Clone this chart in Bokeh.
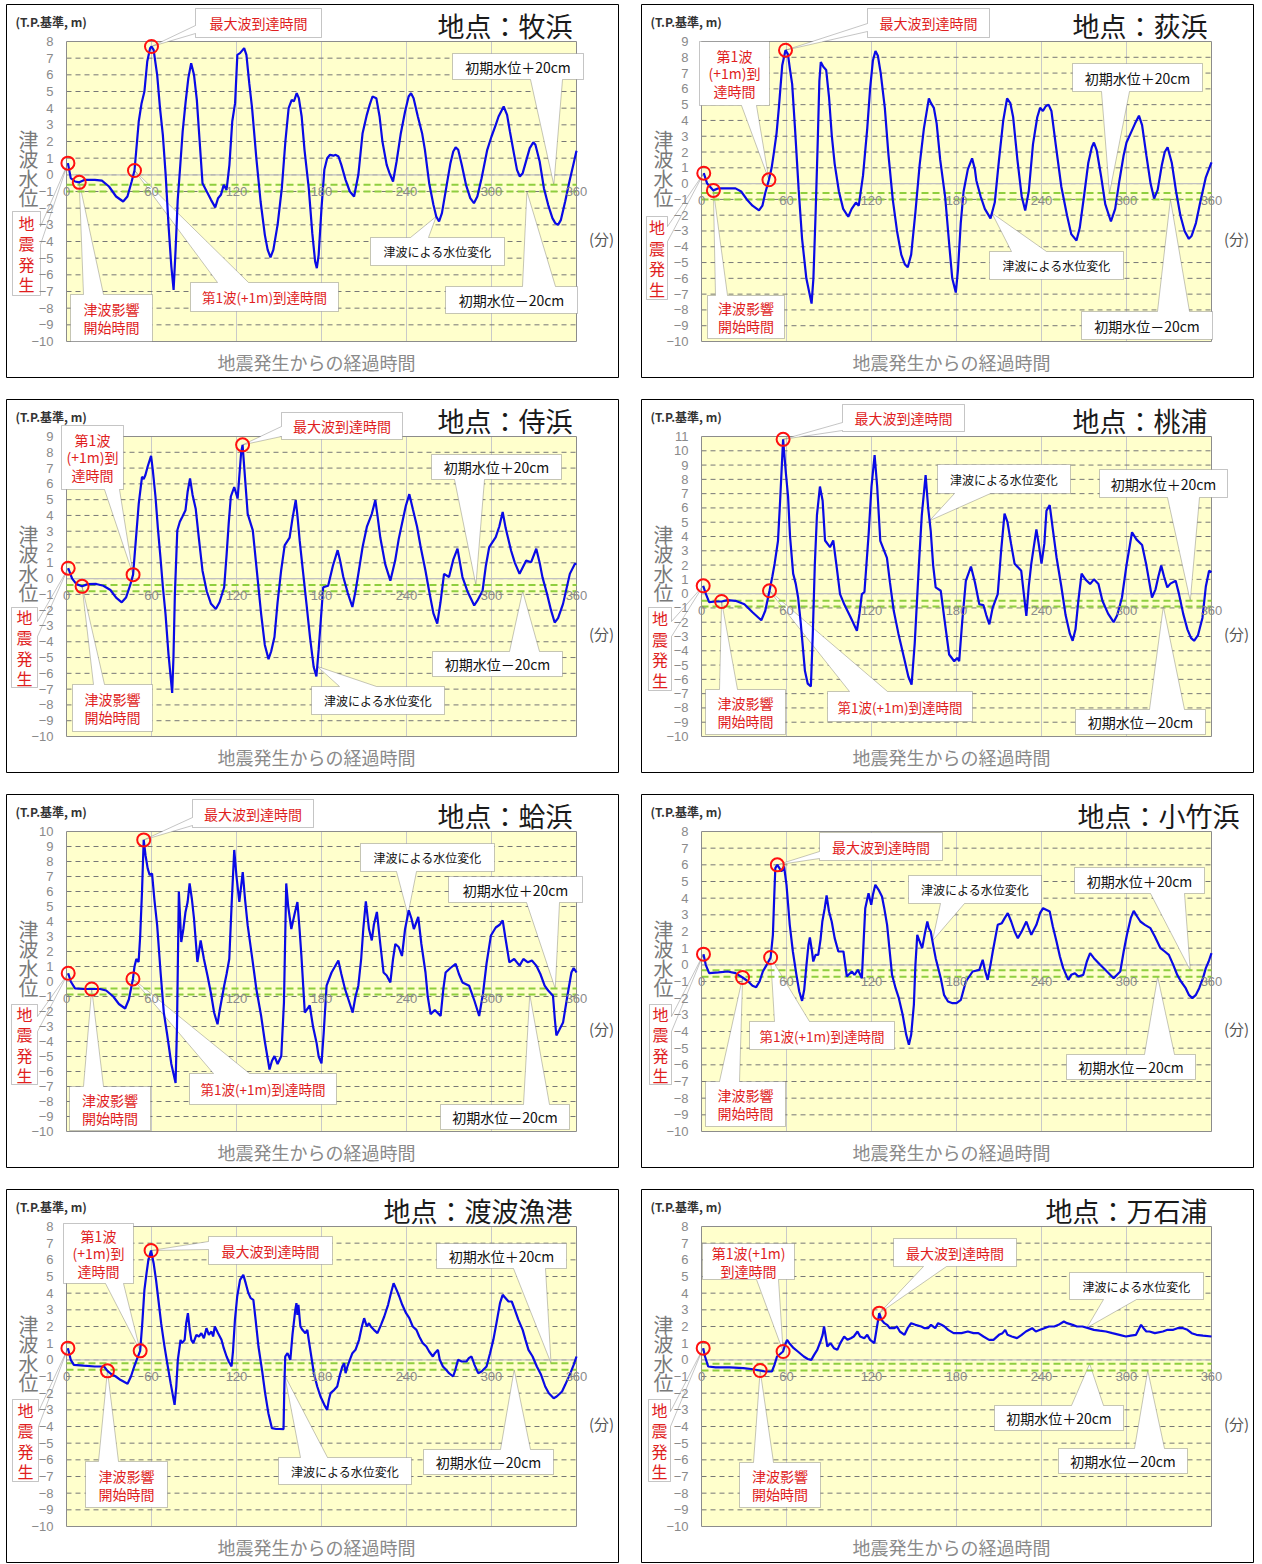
import numpy as np
from bokeh.plotting import figure
from bokeh.models import Range1d, FixedTicker, Label, PolyAnnotation
from bokeh.layouts import column, row
from bokeh.embed import file_html
from bokeh.resources import INLINE

# ---------------- data ----------------
stations = ["牧浜", "荻浜", "侍浜", "桃浦", "蛤浜", "小竹浜", "渡波漁港", "万石浦"]
y_max = [8, 9, 9, 11, 10, 8, 8, 8]
initial_level = [-0.8, -0.8, -0.6, -0.7, -0.67, -0.52, -0.4, -0.44]
x_ticks = [0, 60, 120, 180, 240, 300, 360]

# (minutes after the earthquake, water level m T.P.)
makihama = [(1,0.7),(3,-0.2),(6,-0.4),(9,-0.45),(13,-0.3),(20,-0.3),(25,-0.35),(30,-0.7),(35,-1.3),(40,-1.6),
 (43,-1.3),(46,-0.4),(48,0.26),(51,3.2),(53,4.3),(55,5.0),(57,6.8),(59,7.6),(60,7.7),(61.5,7.5),(64,6.0),(66,4.0),
 (68,2.4),(70,0.0),(72,-3.0),(74,-5.5),(75.6,-6.9),(77,-4.5),(78.5,-1.5),(80,0.2),(82,2.6),(84,4.3),(86,5.8),
 (88,6.7),(90,6.0),(92,4.5),(94,2.0),(96,-0.5),(99,-1.0),(102,-1.5),(105,-1.95),(107,-1.4),(109,-1.2),(111,-0.6),
 (113,-0.9),(115,0.6),(117,3.2),(119,4.3),(120.6,7.2),(122.5,7.3),(125.4,7.6),(127,7.2),(129,5.5),(131,4.0),
 (134,1.0),(137,-1.6),(140,-3.6),(142,-4.5),(144,-4.95),(146,-4.5),(149,-3.0),(152,-0.8),(154.5,2.0),(156.8,4.0),
 (159,4.5),(160.5,4.4),(162.5,4.9),(164,4.6),(166,3.5),(168,1.5),(171,-0.8),(173.5,-3.5),(175.5,-5.2),(176.7,-5.6),
 (178,-4.8),(180,-2.0),(182,0.3),(184,1.0),(186,1.2),(188.4,1.15),(190,1.2),(192,1.1),(194,0.6),(197,-0.3),
 (200,-1.0),(203,-1.3),(206,0.0),(209,2.5),(212,3.6),(214,4.2),(216,4.7),(218.7,4.6),(221,3.5),(223,2.0),(226,0.6),
 (228,0.1),(230.5,-0.4),(233,0.8),(236,2.5),(239,3.8),(241.5,4.7),(243.2,4.9),(245,4.6),(248,3.5),(251,2.5),
 (253,1.5),(256,-0.5),(259,-1.8),(261,-2.5),(263,-2.8),(265,-2.3),(268,-0.8),(271,0.7),(273,1.4),(274.7,1.65),
 (276.5,1.5),(279,0.6),(282,-0.6),(285,-1.4),(287.6,-1.7),(290,-1.3),(293,-0.2),(297,1.5),(300,2.3),(303,3.0),
 (305,3.5),(308.6,4.1),(311,3.6),(313,2.6),(316,1.2),(318,0.3),(320,-0.1),(322,0.1),(325,1.0),(327,1.6),
 (329.5,1.95),(331,1.8),(334,0.8),(337,-0.8),(340,-1.8),(343,-2.6),(345,-2.9),(347,-3.0),(349,-2.7),(352,-1.6),
 (355,-0.4),(358,0.7),(360,1.45)]

oginohama = [(1.6,0.66),(4,0.0),(8.4,-0.43),(12,-0.3),(16,-0.3),(24,-0.3),(28,-0.5),(32,-1.0),(36,-1.4),(40.6,-1.7),
 (43,-1.4),(45,-0.6),(47.6,0.24),(49.5,1.0),(51,1.9),(53,3.2),(54.6,4.8),(57,7.5),(59.3,8.45),(61,8.2),(62.5,7.2),
 (64,6.3),(66,3.5),(68.6,-0.4),(71,-3.5),(74,-6.0),(77.7,-7.6),(79,-6.0),(80.5,-2.0),(82,2.5),(83.2,6.5),(84.2,7.7),
 (86,7.4),(88,7.2),(90,5.5),(92,3.0),(94,1.25),(97,-0.5),(100,-1.6),(103.6,-2.1),(106,-1.6),(109,-1.2),(111,-1.4),
 (114,0.5),(117,3.5),(119,6.0),(121,7.8),(122.8,8.4),(124.5,8.1),(126.5,7.0),(129.4,4.8),(132,1.8),(135,-1.0),
 (138,-3.0),(141,-4.5),(143.5,-5.1),(145.6,-5.3),(148,-4.5),(151,-1.8),(154,1.2),(157,3.5),(160.5,5.4),(162,5.1),
 (164,4.8),(166,3.8),(168.5,1.5),(172,-0.85),(175,-4.0),(177,-6.0),(179.5,-6.9),(181,-5.5),(183,-2.5),(185,-0.5),
 (188,0.9),(191,1.6),(193,0.9),(194,0.2),(197,-0.8),(200,-1.6),(204,-2.2),(207,-1.2),(210,1.5),(213,4.0),
 (215.7,5.4),(218,5.1),(220,4.2),(223,1.5),(226,-0.8),(228.5,-1.7),(231,-0.5),(234,2.5),(237,4.2),(239,4.8),
 (241,4.6),(243,4.9),(245,5.0),(247,4.6),(250,2.5),(254,-0.2),(258,-2.0),(261,-3.2),(264.7,-3.6),(267,-2.8),
 (270,-0.8),(273,1.3),(275.5,2.3),(277,2.6),(279,2.1),(282,0.5),(285,-1.3),(289,-2.4),(292,-1.6),(295,0.2),
 (298,1.8),(300,2.6),(303,3.2),(306,3.8),(308.8,4.3),(311,3.7),(314,1.8),(317,0.0),(319.5,-0.95),(322,-0.4),
 (325,1.2),(327,2.0),(329,2.3),(332,1.3),(335,-0.5),(338,-2.0),(341,-3.0),(344,-3.5),(346,-3.3),(349,-2.5),
 (352,-1.2),(356,0.4),(360,1.35)]

samuraihama = [(1.2,0.66),(4,0.0),(7,-0.35),(11,-0.49),(15,-0.35),(21,-0.34),(26,-0.45),(31,-0.72),(35,-1.2),
 (39,-1.5),(42,-1.2),(45,-0.4),(47,0.25),(49,2.5),(51,4.75),(53.3,6.45),(54.5,6.3),(55.7,6.56),(57.3,7.1),
 (59.7,7.77),(61,6.8),(62.8,5.2),(64.5,3.2),(66.3,1.36),(68,-0.5),(69.9,-2.25),(72,-4.8),(74.6,-7.24),(75.5,-5.0),
 (76.5,-1.0),(78.2,3.05),(80,3.6),(81.7,3.9),(84,4.33),(85.5,5.5),(87.2,6.35),(89,5.3),(91.2,4.43),(93.5,2.5),
 (96,0.5),(99,-0.8),(102,-1.6),(105.4,-1.93),(108,-1.5),(111.3,-0.55),(113,1.5),(114.5,3.5),(116,5.2),(118.4,5.8),
 (120.8,5.07),(122,6.5),(123.3,8.0),(124.3,8.47),(125.5,7.0),(127.9,4.1),(131.5,3.05),(134,0.8),(137.4,-2.25),
 (140,-4.2),(142.6,-5.1),(144.5,-4.6),(146.8,-3.7),(149,-1.5),(151.5,0.5),(154,2.1),(157.5,2.6),(159.5,3.8),
 (161.8,4.97),(163,4.0),(164.6,2.4),(167,0.4),(169.4,-1.6),(172,-3.8),(174.5,-5.6),(176.4,-6.2),(178,-4.5),
 (181.2,-0.55),(184.7,-0.45),(188,0.8),(191.4,1.8),(193,1.2),(195.4,0.1),(198.5,-0.9),(201.8,-1.8),(204,-0.8),
 (206,0.3),(209,2.0),(212,3.27),(215.5,4.1),(218,4.97),(219.5,4.0),(221.5,2.6),(225,0.9),(228.6,-0.13),(232,1.14),
 (234.5,2.5),(236.8,3.48),(239.5,4.6),(242,5.35),(244.5,4.4),(247.5,3.27),(250,2.0),(253.4,0.5),(256,-0.8),
 (259,-2.2),(261.7,-2.85),(264,-1.5),(266.5,0.3),(270,0.1),(273,1.2),(276,1.9),(279.5,0.1),(283,-0.8),(287.8,-1.7),
 (290,-1.4),(293.7,-0.77),(296,0.8),(298.4,2.0),(303,2.63),(305.5,3.3),(307.9,4.22),(310,3.2),(313.8,1.78),
 (316.5,1.0),(319.8,0.3),(324.5,1.14),(328,1.04),(331.6,1.89),(334,1.0),(336,0.08),(339,-0.9),(342,-2.0),
 (344.6,-2.78),(347,-2.5),(350.5,-1.6),(355.3,0.3),(358.8,0.93),(360,0.93)]

momonoura = [(1.2,0.55),(3,0.0),(5.4,-0.6),(10,-0.55),(14.2,-0.55),(18.5,-0.45),(24,-0.5),(30.3,-0.74),(36,-1.3),
 (42.2,-1.86),(45,-1.2),(48,0.2),(50,1.2),(51.6,2.08),(54,3.7),(55.5,6.5),(57.6,10.8),(59.5,8.5),(61.1,6.8),
 (62.5,4.0),(64.7,1.4),(66.5,0.7),(68.2,-0.27),(70,-2.0),(73,-5.4),(75,-6.3),(77.2,-6.5),(78.5,-3.0),(80,2.08),
 (81.5,5.5),(83.6,7.5),(85.5,6.5),(87.2,3.72),(90.7,3.25),(93,3.72),(95.5,1.8),(97.8,-0.03),(101,-0.8),(105,-1.6),
 (109.7,-2.6),(111.5,-1.4),(113.2,-0.03),(115,0.1),(118,4.2),(120,7.5),(122.2,9.7),(124,7.5),(126.2,3.7),
 (130.9,2.5),(133,0.8),(135.7,-1.2),(139,-2.8),(143,-4.5),(146,-5.8),(148.3,-6.37),(150.5,-3.5),(153.5,2.08),
 (155.5,5.5),(158.2,8.3),(160,6.0),(161.8,4.4),(163.5,2.0),(165.3,0.44),(168.9,0.2),(171.5,-1.8),(174.8,-4.26),
 (178.4,-4.73),(180.5,-4.5),(181.9,-4.73),(184,-2.0),(186.6,0.9),(190.2,1.9),(193,0.8),(196.1,-0.74),(199,-0.8),
 (201,-1.5),(203.2,-2.15),(205.5,-1.0),(209.1,-0.03),(211.5,3.0),(213.9,5.6),(216,5.0),(218.5,3.5),(221,2.1),
 (225.7,1.6),(227.5,0.0),(229.3,-1.56),(231,0.5),(232.8,2.1),(236.4,4.5),(238,3.5),(240,2.1),(242,3.5),(243.5,5.8),
 (245.8,6.2),(248,4.5),(250.6,2.55),(254,0.5),(257,-1.5),(260,-2.8),(262,-3.3),(264,-2.5),(266,-0.5),(268.3,1.4),
 (271,1.0),(274.3,0.67),(277,1.0),(280.2,0.67),(283,-0.5),(287,-1.4),(290.9,-2.0),(293.5,-1.5),(296.8,-0.27),
 (300,2.0),(303.9,4.3),(307,3.8),(311,3.4),(314,2.0),(318,-0.27),(320.5,0.3),(322.5,1.2),(324.5,1.96),(326.5,1.2),
 (328.8,0.44),(331,0.7),(334.7,0.9),(337,0.0),(340,-1.4),(343,-2.5),(345.5,-3.1),(347.7,-3.3),(350.5,-2.9),
 (353.6,-1.7),(356,0.5),(358.3,1.6),(360,1.5)]

hamagurihama = [(1.2,0.55),(3,0.0),(6,-0.46),(12,-0.5),(17.8,-0.5),(23.7,-0.5),(28,-0.6),(33,-1.0),(37,-1.5),
 (41.4,-1.8),(44,-1.2),(46.9,0.17),(48,1.0),(49.3,1.5),(50.9,1.3),(52,3.0),(53.3,6.0),(54.5,9.44),(55.8,8.4),
 (57.3,7.54),(58.7,7.1),(60.4,7.2),(62,5.5),(64,3.74),(66.5,0.5),(68.7,-2.07),(71,-3.5),(74,-5.5),(77,-6.76),
 (78,-3.0),(79.3,6.0),(81,2.63),(82.5,3.5),(84,4.64),(85.5,5.3),(86.9,6.54),(88.5,5.5),(90,4.2),(92.4,1.3),
 (94.7,2.74),(97,1.5),(99.5,0.4),(102,-0.8),(104.2,-2.07),(106.6,-2.85),(108,-2.0),(111.3,-0.28),(113,0.5),
 (114.9,1.5),(116.5,5.0),(118.4,8.77),(120,7.0),(122,5.3),(124.4,7.3),(126,5.5),(127.9,3.74),(131.5,1.28),
 (134,-0.5),(137.4,-2.3),(140,-4.0),(143.3,-5.87),(145,-5.3),(146.8,-4.97),(149,-5.5),(151.6,-4.97),(153.5,-1.4),
 (155.1,6.54),(156.5,5.0),(158.7,3.5),(161,4.5),(163,5.3),(164.5,3.5),(165.8,1.73),(168.2,-2.07),(171.7,-1.6),
 (174,-3.0),(176.5,-4.08),(178,-5.0),(180,-5.46),(181.5,-3.5),(183.6,-0.28),(187.1,0.6),(189.5,1.0),(191.9,1.4),
 (194,0.5),(196.6,-0.5),(199,-1.2),(202,-2.07),(204,-1.0),(206,-0.28),(208,1.5),(209.5,3.5),(211.3,5.35),
 (213.5,3.5),(215.5,2.74),(217,3.8),(219.1,4.64),(221.5,2.5),(223.8,0.6),(226,0.4),(228.6,-0.06),(230.5,1.5),
 (232.1,2.5),(234.5,2.3),(236.8,1.7),(239,3.5),(241.6,4.75),(243.5,4.2),(245.2,3.5),(248.3,4.3),(250.5,2.5),
 (253.4,0.6),(255,-1.0),(257,-2.18),(260,-1.9),(264.1,-2.3),(266,-0.5),(267.6,0.6),(271,0.9),(274.7,1.17),
 (277,0.5),(279.5,-0.06),(284.2,-0.28),(288,-1.3),(291.3,-2.3),(294,-0.8),(296.5,1.2),(299.6,3.07),(303,3.6),
 (306,3.8),(307.9,4.08),(310,2.8),(312.6,1.28),(316,1.5),(319.8,1.06),(322.5,1.5),(325.7,1.28),(328.5,1.4),
 (331.6,1.06),(334.5,0.5),(337.5,-0.28),(340,-0.6),(343.4,-0.95),(344.7,-2.5),(345.8,-3.6),(348,-3.2),
 (350.5,-2.74),(353.5,-1.0),(356.4,0.6),(358,0.9),(360,0.6)]

kotakehama = [(1.4,0.64),(3,0.0),(5.4,-0.5),(12,-0.45),(18.5,-0.4),(24,-0.5),(29,-0.76),(33,-1.0),(36,-1.25),
 (38.6,-1.34),(41,-1.0),(43.3,-0.4),(46,0.0),(48.8,0.44),(50.4,1.8),(51.3,4.0),(52.1,5.8),(53.5,6.0),(55,5.8),
 (56.4,5.6),(58.3,5.9),(60,4.8),(62.3,2.4),(64.5,0.8),(67,-0.6),(69,-1.6),(71,-2.16),(72.5,-1.5),(74.1,0.0),
 (75.5,1.2),(76.5,1.64),(78,0.8),(78.9,0.2),(80.5,0.6),(82.4,0.6),(84,1.5),(85.3,2.6),(87,3.4),(88.3,4.16),
 (90,3.2),(91.9,2.6),(94,1.6),(96.6,0.8),(100.2,0.8),(101.5,0.0),(102.6,-0.7),(106.1,-0.4),(108,-0.6),(110.4,-0.3),
 (113.2,-0.8),(114.5,1.5),(115.6,3.4),(117.9,4.3),(119.8,3.6),(121,4.2),(122.7,4.8),(125,4.5),(127.4,4.1),
 (129,3.4),(131,2.4),(134.5,-0.6),(137,-1.4),(139.3,-2.0),(142,-3.0),(144.5,-4.2),(146.4,-4.8),(148,-4.2),
 (149.9,-2.4),(151,0.0),(152.3,1.8),(154,1.4),(155.8,1.0),(157.5,1.8),(159.4,2.6),(160.5,2.2),(161.8,2.0),
 (163.5,1.2),(165.3,0.4),(168.9,-0.8),(171.2,-1.8),(174,-2.2),(177.2,-2.3),(180,-2.3),(183.1,-2.1),(186.6,-1.0),
 (191.4,-0.4),(196.1,-0.3),(198.5,0.3),(200,-0.3),(202,-0.9),(204,0.0),(205.6,0.8),(209.1,2.4),(212,2.5),
 (214,2.8),(216.2,3.1),(218.6,2.6),(221,2.0),(223.3,1.6),(226,2.0),(229.3,2.6),(231,2.2),(232.8,1.8),(236.4,2.4),
 (239,3.1),(241.1,3.4),(245.8,3.2),(248,2.3),(250.6,1.4),(253,0.5),(255.3,-0.2),(258.9,-0.9),(261,-0.6),
 (263.6,-0.5),(266,-0.7),(269.5,-0.6),(272,0.2),(274.3,0.7),(277,0.4),(281.4,0.0),(285,-0.3),(290.9,-0.8),
 (295.6,-0.4),(298,0.8),(300.3,1.8),(303,2.8),(305.1,3.24),(307.5,2.9),(309.8,2.6),(313,2.4),(316.9,2.2),
 (320,1.7),(324,1.0),(327,0.8),(329.9,0.6),(333,0.0),(335.8,-0.6),(338.5,-1.0),(341.8,-1.4),(344,-1.8),
 (346.5,-2.0),(349,-1.8),(351.3,-1.4),(354,-0.8),(356,-0.2),(358,0.2),(360,0.7)]

watanoha = [(1,0.7),(3,0.0),(5.2,-0.3),(12,-0.35),(20,-0.4),(26.5,-0.4),(28.9,-0.66),(31.5,-0.85),(34.8,-1.0),
 (38,-1.2),(43.1,-1.44),(45.5,-1.0),(47.8,-0.4),(50,0.1),(52,0.54),(53.5,2.2),(55,4.2),(56.5,5.2),(57.8,6.0),
 (59.7,6.56),(61.5,5.8),(63.2,4.8),(65,3.5),(66.8,2.2),(69,0.9),(71.5,-0.4),(73.5,-1.4),(76.3,-2.7),(77.5,-1.6),
 (78.6,0.0),(80.5,1.2),(81.5,1.0),(83.4,1.2),(84.5,2.2),(85.7,2.8),(87,1.8),(88.1,1.2),(89.5,1.0),(91.7,1.5),
 (93.5,1.4),(95.2,1.6),(97,1.3),(98.8,1.9),(100.5,1.5),(102.3,1.7),(103.5,1.4),(104.7,2.0),(107,1.6),(109.4,1.2),
 (111,0.7),(113,0.2),(114.5,-0.1),(116.5,-0.4),(117.5,0.5),(118.9,2.4),(120.5,3.8),(122.5,4.8),(124.8,5.1),
 (126.5,4.6),(128.4,4.0),(130,3.7),(131.9,3.6),(133.5,2.4),(135.5,0.8),(138,-0.6),(140.2,-2.0),(142.5,-3.2),
 (145,-4.1),(148,-4.15),(150.5,-4.15),(153.2,-4.16),(153.8,-1.5),(154.4,0.2),(156,0.4),(158,0.0),(159.5,1.5),
 (161.5,3.0),(162.3,3.4),(163,2.7),(163.7,3.3),(165.1,2.0),(166.5,1.8),(168.6,1.6),(170,1.8),(171,1.2),
 (172.8,0.2),(174.6,-0.8),(177,-1.6),(179.3,-2.2),(182,-2.7),(184,-3.0),(185.2,-2.4),(186.4,-2.0),(189,-1.8),
 (191.1,-1.6),(193,-0.9),(194.7,-0.4),(196,-0.2),(197,-0.8),(198.3,-0.4),(200,0.0),(201.8,0.4),(204,0.6),
 (206.5,1.2),(208.5,2.0),(210.1,2.5),(212,2.0),(213.5,2.2),(214.8,2.0),(217,1.8),(219.5,1.6),(222,2.1),
 (224.3,2.6),(227,3.3),(229,4.0),(230.9,4.6),(233,4.2),(234.9,3.8),(237,3.3),(239.7,2.8),(242,2.5),(244.4,2.0),
 (247,1.8),(249,1.4),(251.5,1.0),(254,0.8),(256,0.5),(258.6,0.2),(260,0.4),(262.2,0.6),(263.5,0.0),(265.7,-0.4),
 (268,-0.6),(270,-0.8),(272.9,-1.0),(274.5,-0.6),(276.4,0.0),(279,-0.1),(282.3,-0.1),(284,0.1),(285.9,0.2),
 (288,-0.3),(290.6,-0.8),(293,-0.7),(296.5,-0.4),(299,0.4),(301.3,1.2),(303.5,2.2),(306,3.4),(307.9,3.9),
 (310,3.7),(312,3.5),(314.3,3.5),(316.5,3.0),(319,2.4),(322,1.8),(324,1.2),(326.1,0.6),(329,0.2),(332,-0.4),
 (335,-0.9),(337.9,-1.6),(340.5,-2.0),(343.9,-2.3),(346,-2.2),(349.8,-1.9),(352,-1.5),(355.7,-0.8),(358,-0.3),
 (360,0.2)]

mangokuura = [(1.2,0.7),(2.5,0.2),(4.7,-0.4),(10,-0.45),(20,-0.45),(29.6,-0.5),(35,-0.55),(41.4,-0.64),(45,-0.7),
 (49.7,-0.7),(51.5,-0.3),(53.3,0.2),(55.5,0.35),(57.6,0.5),(59,0.9),(60.4,1.2),(62,1.0),(65.1,0.7),(68,0.5),
 (72.2,0.2),(75,0.05),(77.5,0.0),(79.5,0.3),(81.7,0.6),(84,1.1),(85.5,1.5),(86.5,2.0),(87.5,1.5),(88.8,0.8),
 (91,1.0),(93.5,0.7),(95.9,0.6),(98,1.0),(100.7,1.4),(103,1.2),(105.4,1.3),(107.5,1.4),(110.1,1.7),(112,1.4),
 (114.9,1.3),(117,1.5),(119,1.2),(122,1.0),(123.9,2.0),(125.5,2.8),(127,2.4),(129.1,2.2),(131,2.1),(133,1.9),
 (136.2,1.9),(138,2.0),(140,1.7),(143.3,1.5),(145.5,1.9),(148,2.2),(151,2.1),(155.1,2.0),(157.5,1.9),(159.9,1.9),
 (162,2.1),(165,1.9),(167,2.2),(169.4,2.1),(171.5,2.0),(174.1,1.8),(178,1.6),(183.6,1.6),(188,1.7),(192,1.6),
 (195.4,1.6),(199,1.4),(203,1.2),(206.1,1.2),(210,1.5),(212.5,1.6),(214.4,1.8),(216,1.5),(219,1.4),(222.7,1.3),
 (226,1.5),(229,1.7),(233.4,1.9),(236,1.7),(239,1.8),(242,1.9),(245.2,2.0),(249,2.0),(252,2.1),(255.8,2.3),
 (258,2.2),(262,2.1),(265,2.0),(268.9,2.0),(273,1.9),(277,1.8),(281,1.75),(285.5,1.7),(290,1.6),(295,1.5),
 (299.6,1.4),(303,1.45),(306.7,1.5),(308.5,1.8),(310.3,2.1),(312,1.9),(314,1.7),(316.2,1.7),(320,1.6),
 (325.7,1.7),(329,1.8),(333,1.8),(336,1.9),(340,1.9),(343,1.8),(346,1.6),(349.4,1.5),(354,1.45),(360,1.4)]

series_all = [makihama, oginohama, samuraihama, momonoura, hamagurihama, kotakehama, watanoha, mangokuura]

# marked times: earthquake, tsunami influence start, 1st wave (+1 m), maximum wave
marks_makihama = [(1, 0.7), (9, -0.45), (48, 0.26), (60, 7.7)]
marks_oginohama = [(1.6, 0.66), (8.4, -0.43), (47.6, 0.24), (59.3, 8.45)]
marks_samuraihama = [(1.2, 0.66), (11, -0.49), (47, 0.25), (124.3, 8.47)]
marks_momonoura = [(1.2, 0.55), (14.2, -0.55), (48, 0.2), (57.6, 10.8)]
marks_hamagurihama = [(1.2, 0.55), (17.8, -0.5), (46.9, 0.17), (54.5, 9.44)]
marks_kotakehama = [(1.4, 0.64), (29, -0.76), (48.8, 0.44), (53.5, 6.0)]
marks_watanoha = [(1, 0.7), (28.9, -0.66), (52, 0.54), (59.7, 6.56)]
marks_mangokuura = [(1.2, 0.7), (41.4, -0.64), (57.6, 0.5), (125.5, 2.8)]
marks_all = [marks_makihama, marks_oginohama, marks_samuraihama, marks_momonoura,
             marks_hamagurihama, marks_kotakehama, marks_watanoha, marks_mangokuura]

# ---------------- layout / style ----------------
FONT = "Noto Sans CJK JP"
RED = "#E01E1E"
FW, FH = 510, 300
ML, MR, MT, MB = 60, 43, 37, 37
W, H = ML + FW + MR, MT + FH + MB

TEXTS = {
    "quake": ("地\n震\n発\n生", RED, 16, 0.86),
    "start": ("津波影響\n開始時間", RED, 14, 0.9),
    "first1": ("第1波(+1m)到達時間", RED, 13.5, 1.0),
    "first2": ("第1波(+1m)\n到達時間", RED, 14, 0.9),
    "first3": ("第1波\n(+1m)到\n達時間", RED, 14, 0.88),
    "max": ("最大波到達時間", RED, 14, 1.0),
    "change": ("津波による水位変化", "#111111", 12, 1.0),
    "up": ("初期水位＋20cm", "#111111", 14, 1.0),
    "lo": ("初期水位－20cm", "#111111", 14, 1.0),
}

# callouts: kind, box (x0,y0,x1,y1 px from plot-area corner), edge, base points, tip
CALLOUTS = [
    [("quake", (-54,170,-26,254), "right", (185,203), ("m",0)),
     ("start", (4,253,86,300), "top", (17,37), ("m",1)),
     ("first1", (124,241,272,270), "top", (151,182), ("m",2)),
     ("max", (129,-33,255,-4), "left", (-16,-8), ("m",3)),
     ("change", (304,196,438,224), "top", (344,362), ("c",261)),
     ("up", (386,12,517,38), "bottom", (464,496), ("up",344)),
     ("lo", (379,245,511,272), "top", (456,489), ("lo",325))],
    [("quake", (-55,175,-34,258), "right", (185,200), ("m",0)),
     ("start", (6,254,83,297), "top", (14,26), ("m",1)),
     ("first3", (-2,0,68,64), "bottom", (40,55), ("m",2)),
     ("max", (166,-33,288,-4), "left", (-18,-10), ("m",3)),
     ("change", (288,210,422,238), "top", (310,345), ("c",205)),
     ("up", (371,22,501,50), "bottom", (400,428), ("up",288)),
     ("lo", (380,270,511,298), "top", (456,488), ("lo",331))],
    [("quake", (-55,171,-29,251), "right", (185,200), ("m",0)),
     ("start", (6,248,86,295), "top", (27,38), ("m",1)),
     ("first3", (-5,-11,57,53), "bottom", (38,53), ("m",2)),
     ("max", (215,-24,336,3), "left", (-10,0), ("m",3)),
     ("change", (245,250,378,278), "top", (273,310), ("c",177)),
     ("up", (365,18,495,43), "bottom", (388,418), ("up",289)),
     ("lo", (366,215,496,240), "top", (443,473), ("lo",322))],
    [("quake", (-53,171,-30,254), "right", (185,200), ("m",0)),
     ("start", (4,253,84,298), "top", (18,36), ("m",1)),
     ("first1", (126,255,271,285), "top", (148,186), ("m",2)),
     ("max", (141,-32,263,-5), "left", (-14,-6), ("m",3)),
     ("change", (236,28,369,57), "bottom", (253,289), ("c",161)),
     ("up", (398,33,526,61), "bottom", (466,498), ("up",345)),
     ("lo", (374,273,504,298), "top", (448,483), ("lo",326))],
    [("quake", (-55,173,-29,253), "right", (185,200), ("m",0)),
     ("start", (3,255,84,299), "top", (17,37), ("m",1)),
     ("first1", (123,242,270,273), "top", (147,183), ("m",2)),
     ("max", (126,-32,247,-4), "left", (-14,-6), ("m",3)),
     ("change", (294,12,428,40), "bottom", (330,350), ("c",241)),
     ("up", (382,45,516,71), "bottom", (460,493), ("up",345)),
     ("lo", (374,273,503,298), "top", (457,483), ("lo",327))],
    [("quake", (-52,173,-30,253), "right", (185,200), ("m",0)),
     ("start", (4,250,84,295), "top", (18,38), ("m",1)),
     ("first1", (48,190,193,218), "top", (73,108), ("m",2)),
     ("max", (118,1,241,29), "left", (20,27), ("m",3)),
     ("change", (207,44,340,72), "bottom", (239,263), ("c",163)),
     ("up", (373,36,503,62), "bottom", (449,483), ("up",345)),
     ("lo", (365,223,494,248), "top", (443,473), ("lo",322))],
    [("quake", (-54,173,-28,255), "right", (185,200), ("m",0)),
     ("start", (19,235,101,281), "top", (32,52), ("m",1)),
     ("first3", (-3,-3,67,57), "bottom", (39,57), ("m",2)),
     ("max", (142,10,266,38), "left", (15,23), ("m",3)),
     ("change", (212,231,345,258), "top", (234,261), ("c",154)),
     ("up", (370,17,500,42), "bottom", (447,479), ("up",342)),
     ("lo", (357,223,487,248), "top", (434,464), ("lo",316))],
    [("quake", (-53,173,-31,255), "right", (185,200), ("m",0)),
     ("start", (38,236,119,281), "top", (52,72), ("m",1)),
     ("first2", (1,17,93,53), "bottom", (55,77), ("m",2)),
     ("max", (192,12,315,40), "bottom", (222,245), ("m",3)),
     ("change", (368,46,502,73), "bottom", (402,435), ("c",272)),
     ("up", (293,179,422,204), "top", (370,402), ("up",274)),
     ("lo", (357,222,486,247), "top", (433,463), ("lo",315))],
]
TITLE_RIGHT = [506, 506, 506, 506, 506, 538, 506, 506]


def build(i):
    ymax = y_max[i]
    data = series_all[i]
    marks = marks_all[i]
    lvl = initial_level[i]
    t = [d[0] for d in data]
    v = [d[1] for d in data]

    def X(rx):
        return rx * 360.0 / FW

    def Y(ry):
        return ymax - ry * (ymax + 10.0) / FH

    # the frame spans the whole panel; the plot area is drawn inside it
    p = figure(width=W, height=H, x_range=Range1d(X(-ML), X(FW + MR)),
               y_range=Range1d(Y(FH + MB), Y(-MT)),
               output_backend="svg", toolbar_location=None, min_border=0,
               background_fill_color="white", border_fill_color="white",
               outline_line_color="#000000", outline_line_width=1)
    p.xgrid.visible = False
    p.ygrid.visible = False

    # plot area + grid
    p.quad(left=[0], right=[360], bottom=[-10], top=[ymax], fill_color="#FFFFCC",
           line_color=None, level="image")
    yt = list(range(-9, ymax))
    p.segment(x0=x_ticks[1:-1], y0=[-10] * 5, x1=x_ticks[1:-1], y1=[ymax] * 5,
              line_color="#c9c9c9", line_width=1, level="image")
    p.segment(x0=[0] * len(yt), y0=yt, x1=[360] * len(yt), y1=yt,
              line_color="#777777", line_width=1, line_dash="5 4", level="image")
    p.segment(x0=[0], y0=[0], x1=[360], y1=[0], line_color="#c0c0c0", line_width=1.2,
              level="image")
    p.quad(left=[0], right=[360], bottom=[-10], top=[ymax], fill_color=None,
           line_color="#8c8c8c", line_width=1, level="image")

    # axes, fixed inside the frame
    p.xaxis.fixed_location = 0
    p.xaxis.bounds = (0, 360)
    p.xaxis.ticker = FixedTicker(ticks=x_ticks)
    p.xaxis.axis_line_color = None
    p.xaxis.major_tick_line_color = None
    p.xaxis.minor_tick_line_color = None
    p.xaxis.major_label_text_color = "#8a8a8a"
    p.xaxis.major_label_text_font_size = "13px"
    p.xaxis.major_label_text_font = "Liberation Sans"
    p.xaxis.major_label_standoff = 6

    p.yaxis.fixed_location = 0
    p.yaxis.bounds = (-10, ymax)
    p.yaxis.ticker = FixedTicker(ticks=list(range(-10, ymax + 1)))
    p.yaxis.axis_line_color = None
    p.yaxis.major_tick_line_color = None
    p.yaxis.minor_tick_line_color = None
    p.yaxis.major_label_text_color = "#8a8a8a"
    p.yaxis.major_label_text_font_size = "13px"
    p.yaxis.major_label_text_font = "Liberation Sans"
    p.yaxis.major_label_standoff = 7

    # callouts (drawn beneath the curve)
    for kind, box, edge, base, tip in CALLOUTS[i]:
        if tip[0] == "m":
            tx, ty = marks[tip[1]]
        elif tip[0] == "up":
            tx, ty = tip[1], lvl + 0.2
        elif tip[0] == "lo":
            tx, ty = tip[1], lvl - 0.2
        else:
            tx, ty = tip[1], float(np.interp(tip[1], t, v))
        x0, y0, x1, y1 = box
        tl, tr, br, bl = (X(x0), Y(y0)), (X(x1), Y(y0)), (X(x1), Y(y1)), (X(x0), Y(y1))
        b1, b2 = sorted(base)
        if edge == "top":
            pts = [tl, (X(b1), Y(y0)), (tx, ty), (X(b2), Y(y0)), tr, br, bl]
        elif edge == "right":
            pts = [tl, tr, (X(x1), Y(b1)), (tx, ty), (X(x1), Y(b2)), br, bl]
        elif edge == "bottom":
            pts = [tl, tr, br, (X(b2), Y(y1)), (tx, ty), (X(b1), Y(y1)), bl]
        else:
            pts = [tl, tr, br, bl, (X(x0), Y(b2)), (tx, ty), (X(x0), Y(b1))]
        p.add_layout(PolyAnnotation(xs=[q[0] for q in pts], ys=[q[1] for q in pts],
                                    fill_color="white", fill_alpha=1.0,
                                    line_color="#404040", line_width=1, level="underlay"))
        txt, col, size, lh = TEXTS[kind]
        p.add_layout(Label(x=X((x0 + x1) / 2), y=Y((y0 + y1) / 2), text=txt,
                           text_align="center", text_baseline="middle", text_color=col,
                           text_font=FONT, text_font_size=f"{size}px", text_line_height=lh))

    # initial level +/- 20 cm
    for off in (0.2, -0.2):
        p.line([0, 360], [lvl + off, lvl + off], line_color="#8fce3f", line_width=2,
               line_dash="7 4")

    # tsunami water level curve and markers
    p.line(t, v, line_color="#0a0ae6", line_width=2.2)
    p.scatter([m[0] for m in marks], [m[1] for m in marks], marker="circle", size=13,
              fill_color=None, line_color="#ff1010", line_width=2)

    # texts
    p.add_layout(Label(x=X(TITLE_RIGHT[i]), y=Y(-16), text="地点：" + stations[i],
                       text_align="right", text_baseline="middle", text_color="#1a1a1a",
                       text_font=FONT, text_font_size="27px"))
    p.add_layout(Label(x=X(-51), y=Y(-20), text="(T.P.基準, m)", text_align="left",
                       text_baseline="middle", text_color="#333333", text_font=FONT,
                       text_font_size="12px", text_font_style="bold"))
    p.add_layout(Label(x=X(-38), y=Y(127), text="津\n波\n水\n位", text_align="center",
                       text_baseline="middle", text_color="#7a7a7a", text_font=FONT,
                       text_font_size="20px", text_line_height=0.66))
    p.add_layout(Label(x=X(535), y=Y(197), text="(分)", text_align="center",
                       text_baseline="middle", text_color="#555555", text_font=FONT,
                       text_font_size="15px"))
    p.add_layout(Label(x=X(250), y=Y(320), text="地震発生からの経過時間", text_align="center",
                       text_baseline="middle", text_color="#8a8a8a", text_font=FONT,
                       text_font_size="18px"))
    return p


plots = [build(i) for i in range(8)]
layout = column(row(plots[0], plots[1], spacing=22), row(plots[2], plots[3], spacing=22),
                row(plots[4], plots[5], spacing=22), row(plots[6], plots[7], spacing=22),
                spacing=21, margin=(4, 0, 0, 6))

open("out.html", "w").write(file_html(layout, INLINE))
